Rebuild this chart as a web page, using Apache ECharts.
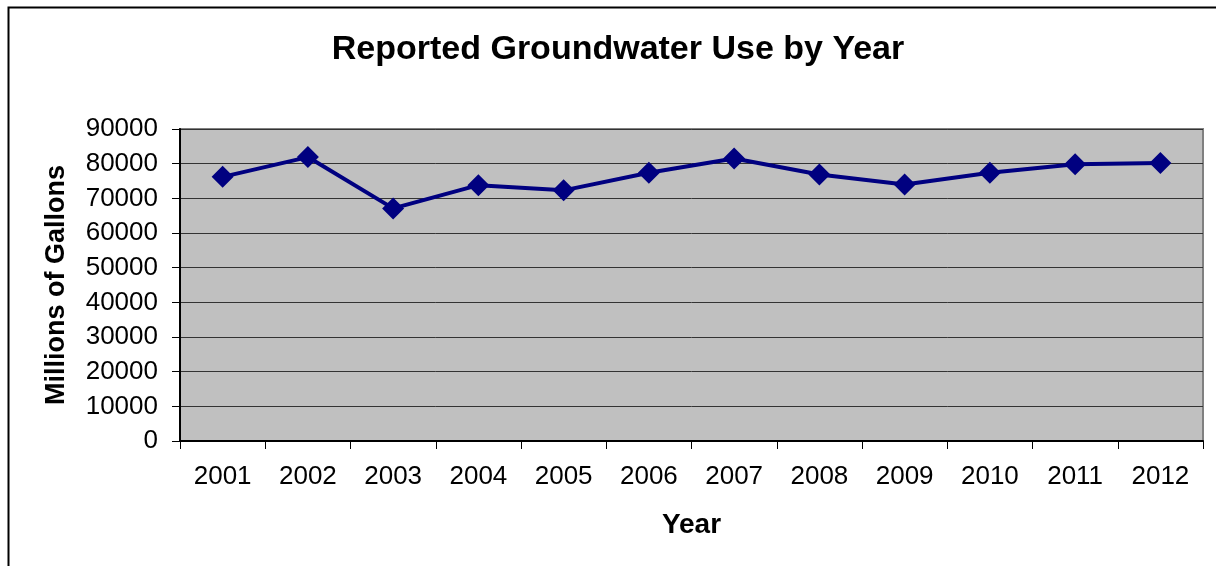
<!DOCTYPE html>
<html>
<head>
    <meta charset="utf-8">
    <title>Reported Groundwater Use by Year</title>
    <script src="https://cdn.jsdelivr.net/npm/echarts@6/dist/echarts.min.js"></script>
    <style>
        body, html { margin: 0; padding: 0; background: #fff; }
        #main { width: 1216px; height: 566px; }
    </style>
</head>
<body>
    <div id="main"></div>
    <script>
        var years = ['2001', '2002', '2003', '2004', '2005', '2006',
                     '2007', '2008', '2009', '2010', '2011', '2012'];
        var usage = [76200, 81900, 67100, 73800, 72300, 77400,
                     81500, 76900, 74000, 77400, 79800, 80200];

        var myChart = echarts.init(document.getElementById('main'));
        var font = 'Liberation Sans, Arial, sans-serif';

        var option = {
            backgroundColor: '#ffffff',
            animation: false,
            title: {
                text: 'Reported Groundwater Use by Year',
                left: 613,
                top: 28,
                textAlign: 'center',
                textStyle: { fontFamily: font, fontSize: 34, fontWeight: 'bold', color: '#000' }
            },
            graphic: [{
                type: 'rect',
                shape: { x: 8.5, y: 7.5, width: 1230, height: 600 },
                style: { fill: 'none', stroke: '#000', lineWidth: 2 },
                silent: true
            }],
            grid: {
                left: 180, right: 13, top: 129, bottom: 125,
                show: true,
                backgroundColor: '#c0c0c0',
                borderColor: '#808080',
                borderWidth: 2
            },
            xAxis: {
                type: 'category',
                data: years,
                boundaryGap: true,
                name: 'Year',
                nameLocation: 'middle',
                nameGap: 70,
                nameTextStyle: { fontFamily: font, fontSize: 28, fontWeight: 'bold', color: '#000' },
                axisLine: { lineStyle: { color: '#000', width: 2 } },
                axisTick: { show: true, length: 8, alignWithLabel: false, lineStyle: { color: '#000' } },
                axisLabel: { fontFamily: font, fontSize: 26, color: '#000', margin: 23 },
                splitLine: { show: false }
            },
            yAxis: {
                type: 'value',
                min: 0,
                max: 90000,
                interval: 10000,
                name: 'Millions of Gallons',
                nameLocation: 'middle',
                nameGap: 110,
                nameTextStyle: { fontFamily: font, fontSize: 27, fontWeight: 'bold', color: '#000' },
                axisLine: { show: true, lineStyle: { color: '#000', width: 2 } },
                axisTick: { show: true, length: 8, lineStyle: { color: '#000' } },
                axisLabel: {
                    fontFamily: font, fontSize: 26, color: '#000', margin: 22,
                    formatter: function (v) { return String(v); }
                },
                splitLine: { show: true, lineStyle: { color: '#333', width: 1 } }
            },
            series: [{
                type: 'line',
                data: usage,
                symbol: 'diamond',
                symbolSize: [22, 22],
                lineStyle: { color: '#000080', width: 4 },
                itemStyle: { color: '#000080' }
            }]
        };

        myChart.setOption(option);
    </script>
</body>
</html>
